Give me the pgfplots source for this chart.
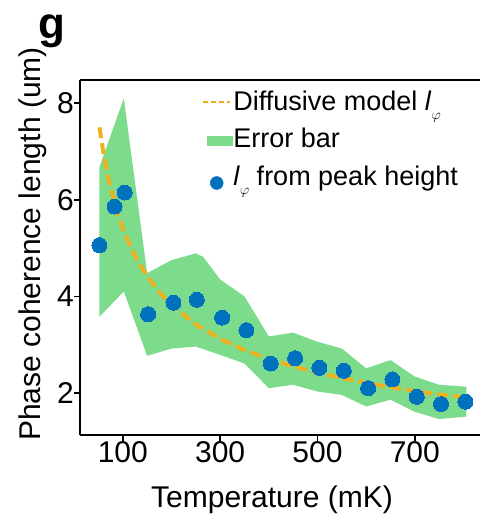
\documentclass[border=0pt]{standalone}
\usepackage{pgfplots}
\pgfplotsset{compat=1.18}
\usepackage{fontspec}
\setmainfont{Liberation Sans}
\definecolor{dotblue}{RGB}{0,114,189}
\definecolor{lineorange}{RGB}{237,177,32}
\definecolor{bandgreen}{RGB}{125,220,140}
\newcommand{\lphi}{\textit{l}\raisebox{-9pt}{\fontsize{14}{14}\selectfont$\varphi$}}
\begin{document}
\begin{tikzpicture}
\useasboundingbox (0,0) rectangle (480pt,516pt);
\node[anchor=base west, inner sep=0pt, font=\fontsize{44}{50}\selectfont\bfseries] at (38pt,477pt) {g};
\begin{axis}[
  at={(80pt,81pt)}, anchor=south west,
  scale only axis, width=400pt, height=355pt,
  xmin=12, xmax=834, ymin=1.13, ymax=8.48,
  axis x line*=box, axis y line*=left,
  xtick={100,300,500,700}, ytick={2,4,6,8},
  xtick pos=bottom, ytick pos=left,
  tick align=outside, major tick length=6pt,
  tick style={line width=1.5pt, black},
  axis line style={line width=2.5pt, black},
  /pgf/number format/assume math mode=true,
  ticklabel style={font=\fontsize{30}{36}\selectfont},
  xticklabel style={anchor=north, inner sep=0pt},
  yticklabel style={anchor=east, inner sep=0pt},
  xlabel={Temperature (mK)},
  ylabel={Phase coherence length (um)},
  xlabel style={at={(axis description cs:0.48,-0.2056)}, anchor=base, font=\fontsize{30}{36}\selectfont},
  ylabel style={at={(axis description cs:-0.0975,0.538)}, anchor=base, font=\fontsize{30}{36}\selectfont},
  legend cell align=left,
  legend style={at={(axis description cs:0.3,0.9718)}, anchor=north west,
    draw=none, fill=none, inner sep=0pt, outer sep=0pt,
    font=\fontsize{27}{30}\selectfont,
    nodes={text height=20pt, text depth=7pt, inner sep=0pt},
    row sep=10.5pt,
    /tikz/every odd column/.append style={column sep=1pt}},
]
\addplot[fill=bandgreen, draw=none, forget plot] coordinates {
(52,6.68) (102,8.10) (150,4.48) (200,4.75) (250,4.89) (265,4.82) (300,4.35) (350,4.00)
(400,3.17) (450,3.25) (500,3.06) (550,2.92) (600,2.51) (650,2.68) (700,2.34) (750,2.17) (806,2.13)
(806,1.51) (750,1.46) (700,1.61) (650,1.86) (600,1.72) (550,1.96) (500,2.03) (450,2.17)
(400,2.10) (350,2.61) (300,2.79) (250,2.96) (200,2.92) (150,2.77) (102,4.10) (52,3.58)
} -- cycle;
\addplot[dotblue, only marks, mark=*, mark size=7.5pt, mark options={fill=dotblue, draw=dotblue, line width=0pt}, forget plot] coordinates {
(52,5.06) (83,5.86) (104,6.15) (152,3.63) (204,3.87) (252,3.93) (304,3.56) (354,3.30)
(404,2.61) (454,2.72) (504,2.52) (554,2.46) (604,2.10) (654,2.28) (704,1.92) (754,1.77) (804,1.82)
};
\addplot[lineorange, line width=4pt, dash pattern=on 11pt off 5pt, forget plot] coordinates {
(52,7.50) (60,6.98) (70,6.46) (80,6.05) (90,5.70) (100,5.41) (115,5.04) (130,4.74) (150,4.42)
(175,4.09) (200,3.82) (250,3.42) (300,3.12) (350,2.89) (400,2.70) (450,2.55) (500,2.42)
(550,2.31) (600,2.21) (650,2.12) (700,2.04) (750,1.97) (804,1.91)
};
\addlegendimage{legend image code/.code={\path (0pt,0pt); \draw[lineorange, line width=2.5pt, dash pattern=on 5pt off 3pt] (3pt,1.5pt) -- (30pt,1.5pt);}}
\addlegendentry{Diffusive model \lphi}
\addlegendimage{legend image code/.code={\path (0pt,0pt); \fill[bandgreen] (7pt,-4pt) rectangle (32pt,5pt);}}
\addlegendentry{Error bar}
\addlegendimage{legend image code/.code={\path (0pt,0pt); \fill[dotblue] (16.5pt,-4.5pt) circle (6.5pt);}}
\addlegendentry{\lphi\ from peak height}
\end{axis}
\end{tikzpicture}
\end{document}
